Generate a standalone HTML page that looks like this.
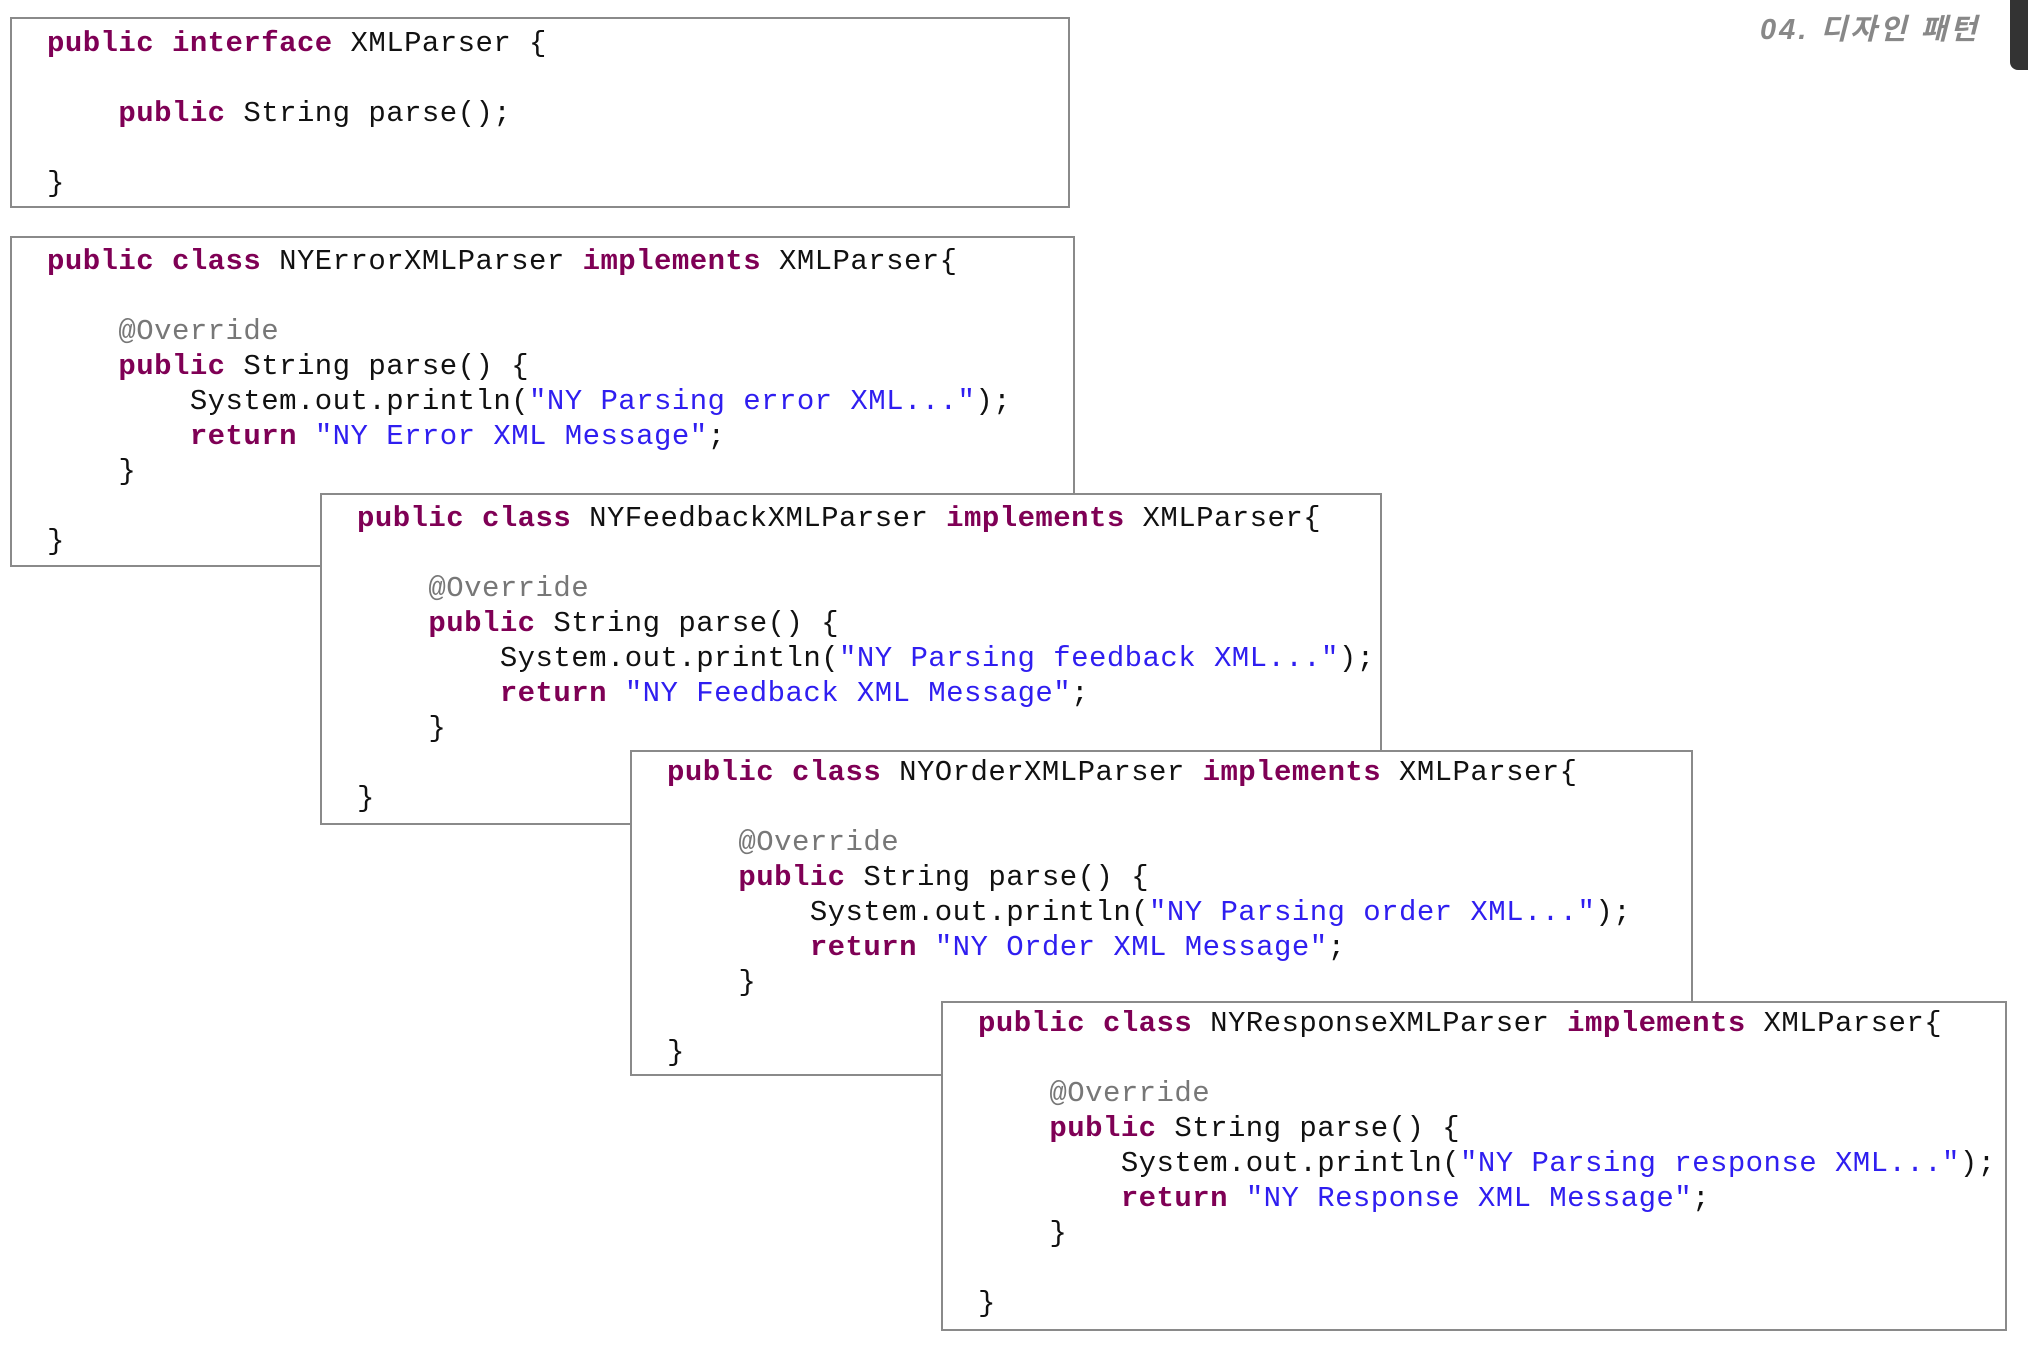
<!DOCTYPE html>
<html><head><meta charset="utf-8"><style>
html,body{margin:0;padding:0;background:#fff;width:2028px;height:1352px;overflow:hidden;position:relative}
.b{position:absolute;background:#fff;border:2px solid #8a8a8a;box-sizing:border-box}
.b pre{margin:0;position:absolute;left:35px;top:6px;font-family:"Liberation Mono",monospace;font-size:29px;letter-spacing:0.45px;line-height:35px;color:#111}
.k{color:#7f0055;font-weight:bold}
.s{color:#2f1ef0}
.a{color:#777}
.t{position:absolute;left:1760px;top:6px;font-family:"Liberation Sans","Noto Sans CJK KR",sans-serif;font-style:italic;font-weight:bold;font-size:29px;letter-spacing:3px;color:#888}
.tab{position:absolute;left:2010px;top:-10px;width:30px;height:80px;background:#333;border-radius:8px}
</style></head><body>
<div class="t">04. 디자인 패턴</div>
<div class="tab"></div>
<div class="b" style="left:10px;top:17px;width:1060px;height:191px"><pre style="top:7px"><span class="k">public interface</span> XMLParser {

    <span class="k">public</span> String parse();

}</pre></div>
<div class="b" style="left:10px;top:236px;width:1065px;height:331px"><pre><span class="k">public class</span> NYErrorXMLParser <span class="k">implements</span> XMLParser{

    <span class="a">@Override</span>
    <span class="k">public</span> String parse() {
        System.out.println(<span class="s">"NY Parsing error XML..."</span>);
        <span class="k">return</span> <span class="s">"NY Error XML Message"</span>;
    }

}</pre></div>
<div class="b" style="left:320px;top:493px;width:1062px;height:332px"><pre><span class="k">public class</span> NYFeedbackXMLParser <span class="k">implements</span> XMLParser{

    <span class="a">@Override</span>
    <span class="k">public</span> String parse() {
        System.out.println(<span class="s">"NY Parsing feedback XML..."</span>);
        <span class="k">return</span> <span class="s">"NY Feedback XML Message"</span>;
    }

}</pre></div>
<div class="b" style="left:630px;top:750px;width:1063px;height:326px"><pre style="top:3px"><span class="k">public class</span> NYOrderXMLParser <span class="k">implements</span> XMLParser{

    <span class="a">@Override</span>
    <span class="k">public</span> String parse() {
        System.out.println(<span class="s">"NY Parsing order XML..."</span>);
        <span class="k">return</span> <span class="s">"NY Order XML Message"</span>;
    }

}</pre></div>
<div class="b" style="left:941px;top:1001px;width:1066px;height:330px"><pre style="top:3px"><span class="k">public class</span> NYResponseXMLParser <span class="k">implements</span> XMLParser{

    <span class="a">@Override</span>
    <span class="k">public</span> String parse() {
        System.out.println(<span class="s">"NY Parsing response XML..."</span>);
        <span class="k">return</span> <span class="s">"NY Response XML Message"</span>;
    }

}</pre></div>
</body></html>
